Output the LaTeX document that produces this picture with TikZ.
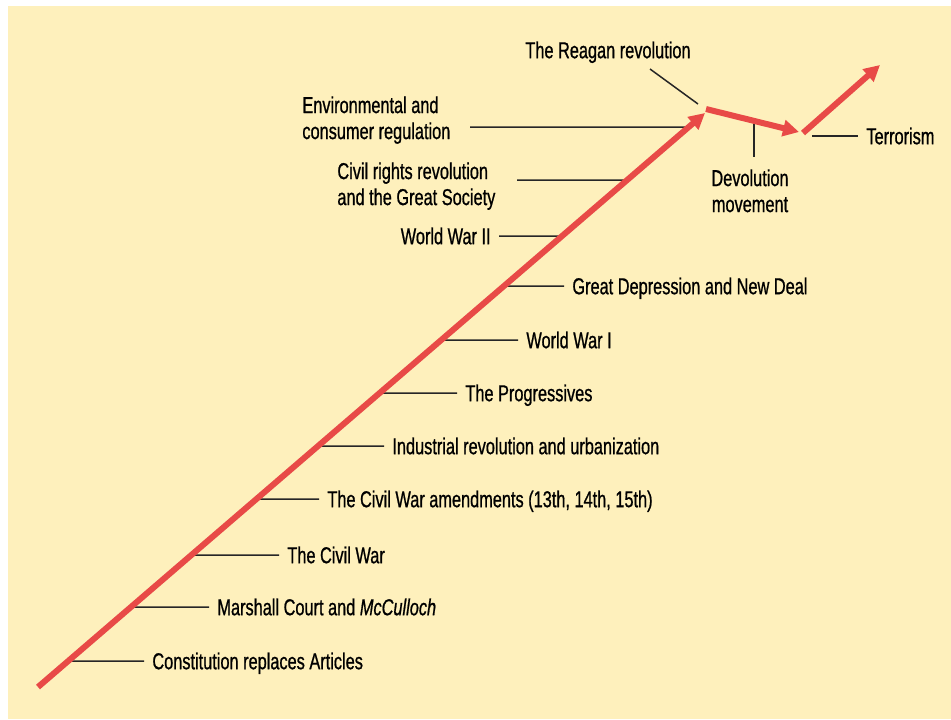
\documentclass[tikz,border=0pt]{standalone}
\usepackage{fontspec}
\setmainfont{Liberation Sans}[FakeStretch=0.71, FakeBold=0.8]
\usetikzlibrary{arrows.meta,calc}
\definecolor{bgyellow}{HTML}{FEF0BC}
\definecolor{trendred}{HTML}{E84A47}

\begin{document}
\begin{tikzpicture}[x=0.5pt,y=-0.5pt,
        evt/.style={font=\fontsize{11.5}{13}\selectfont, inner xsep=4pt, inner ysep=0pt,
            text height=8.2pt, text depth=0pt},
        evtlong/.style={font=\fontsize{11.5}{13}\selectfont, inner sep=0pt},
        leader/.style={draw=black!85, line width=0.75pt},
        trend/.style={draw=trendred, line width=3pt, -{Triangle[length=8pt,width=8pt]}}]
        \fill[white] (0,0) rectangle (951,719);
        \fill[bgyellow] (8,6) rectangle (951,719);
        \useasboundingbox (0,0) rectangle (951,719);

        % the long rise up to the Reagan years
        \coordinate (start) at (38,687);
        \coordinate (reagan) at (705,113);

        % events to the right of the line
        \foreach \i/\y/\xe/\txt in {
            1/661/144/Constitution replaces Articles,
            2/607/209/{Marshall Court and \textit{McCulloch}},
            3/555/279/The Civil War,
            4/499/319/{The Civil War amendments (13th, 14th, 15th)},
            5/446/384/Industrial revolution and urbanization,
            6/393/457/The Progressives,
            7/340/518/World War I,
            8/286/564/Great Depression and New Deal}{
            \pgfmathsetmacro{\p}{(687-\y)/574}
            \coordinate (t\i) at ($(start)!\p!(reagan)$);
            \node[evt, anchor=west] (l\i) at (\xe,\y) {\txt};
            \draw[leader] (t\i) -- (l\i.west);
        }

        % events to the left of the line
        \coordinate (t9) at ($(start)!{(687-236)/574}!(reagan)$);
        \node[evt, anchor=east] (l9) at (499,236) {World War II};
        \draw[leader] (l9.east) -- (t9);

        \coordinate (t10) at ($(start)!{(687-180)/574}!(reagan)$);
        \node[evtlong, anchor=north west, align=left] (l10) at (337,162)
            {Civil rights revolution\\and the Great Society};
        \coordinate (c10) at (517,180);
        \draw[leader] (c10) -- (t10);

        \coordinate (t11) at ($(start)!{(687-127)/574}!(reagan)$);
        \node[evtlong, anchor=north west, align=left] (l11) at (302,96)
            {Environmental and\\consumer regulation};
        \coordinate (c11) at (470,127);
        \draw[leader] (c11) -- (t11);

        % the turns at the top
        \coordinate (dev0) at (706,109);
        \coordinate (dev1) at (799,132);
        \coordinate (ter0) at (803,133);
        \coordinate (ter1) at (880,65);

        \node[evt] (rg) at (608,50) {The Reagan revolution};
        \coordinate (rgfoot) at (650,69);
        \coordinate (rgtip) at (698,104);
        \draw[leader] (rgfoot) -- (rgtip);

        \coordinate (devpt) at ($(dev0)!0.516!(dev1)$);
        \node[evtlong, inner ysep=6pt, anchor=north, align=center] (dev) at (750,157)
            {Devolution\\movement};
        \draw[leader] (devpt) -- (devpt |- dev.north);

        \coordinate (terpt) at (812,136);
        \node[evt, anchor=west] (terr) at (858,136) {Terrorism};
        \draw[leader] (terpt) -- (terr.west);

        \draw[trend] (start) -- (reagan);
        \draw[trend] (dev0) -- (dev1);
        \draw[trend] (ter0) -- (ter1);
    \end{tikzpicture}
\end{document}
